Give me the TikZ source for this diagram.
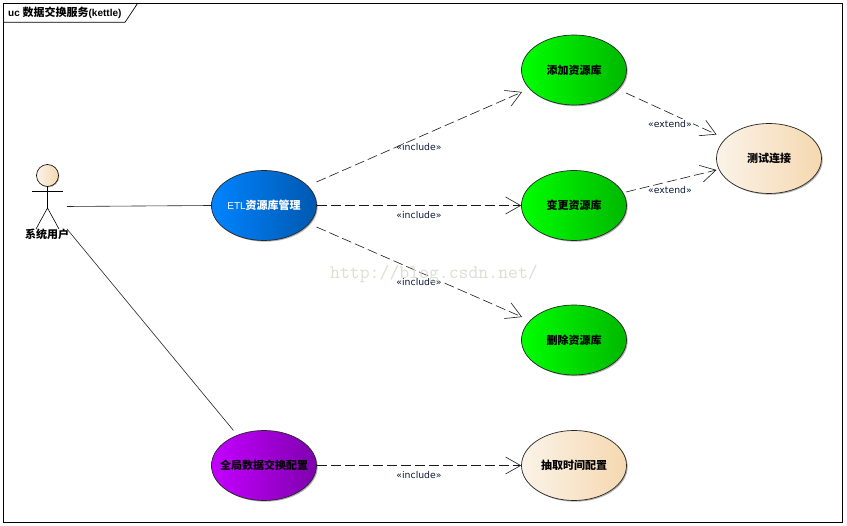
\documentclass[tikz,border=0pt]{standalone}
\usepackage{fontspec}
\setmainfont{Liberation Sans}
\newfontfamily\cjk{Noto Sans CJK SC}
\newfontfamily\stereofont{DejaVu Sans}
\usetikzlibrary{shapes.geometric,arrows.meta,shadows,fadings}
\definecolor{wm}{HTML}{DEDED6}
\definecolor{lbl}{HTML}{0A1A3A}
\tikzset{
  uc/.style={ellipse,draw=black!85,line width=0.7pt,minimum width=105pt,minimum height=70pt,inner sep=0pt,
    drop shadow={shadow xshift=1.2pt,shadow yshift=-1.2pt,fill=black,opacity=0.3},
    font=\fontsize{11}{12}\selectfont\cjk\bfseries,text=black,shading angle=90},
  ucblue/.style={uc,left color=blue1,right color=blue2,text=white},
  ucgreen/.style={uc,left color=green1,right color=green2},
  ucpurple/.style={uc,left color=purple1,right color=purple2},
  ucbeige/.style={uc,left color=beige1,right color=beige2},
  assoc/.style={draw=black!85,line width=0.6pt},
  dep/.style={draw=black!90,line width=0.6pt,dash pattern=on 10pt off 4pt,
     -{Straight Barb[length=15pt,width=17pt,line width=0.6pt]}},
  stereo/.style={fill=white,inner sep=1pt,text=lbl,font=\fontsize{9.3}{10}\selectfont\stereofont},
  limb/.style={draw=black,line width=0.6pt},
}
\definecolor{blue1}{HTML}{0084FF}\definecolor{blue2}{HTML}{0058B0}
\definecolor{green1}{HTML}{00FF00}\definecolor{green2}{HTML}{00B800}
\definecolor{purple1}{HTML}{C400FF}\definecolor{purple2}{HTML}{7F00AE}
\definecolor{beige1}{HTML}{FBF3E8}\definecolor{beige2}{HTML}{F5D8B0}
\begin{document}
\begin{tikzpicture}[x=1pt,y=-1pt]
\useasboundingbox (0,0) rectangle (847,526);
\fill[white] (0,0) rectangle (847,526);
% frame
\draw[black,line width=0.8pt] (3.5,3.5) rectangle (842,522);
\draw[black,line width=0.7pt] (3.5,22.3) -- (125,22.3) -- (137.5,3.5);
\node[anchor=west,inner sep=0pt,font=\fontsize{10}{11}\selectfont\bfseries] (title) at (8,13) {uc {\fontsize{11}{11}\selectfont\cjk 数据交换服务}(kettle)};
% actor
\node[circle,draw=black,line width=0.6pt,minimum size=22pt,inner sep=0pt,left color=beige1,right color=beige2,shading angle=90,
  drop shadow={shadow xshift=0.8pt,shadow yshift=-0.8pt,fill=black,opacity=0.3}] (head) at (47.5,175.5) {};
\coordinate (hip) at (47.5,208);
\coordinate (armL) at (32,191);
\coordinate (armR) at (62.5,191);
\coordinate (legL) at (36,229);
\coordinate (legR) at (59,229);
\draw[limb] (head.south) -- (hip);
\draw[limb] (armL) -- (armR);
\draw[limb] (legL) -- (hip) -- (legR);
\node[inner sep=0pt,font=\fontsize{11}{12}\selectfont\cjk\bfseries] (actor) at (47,234) {系统用户};
% use cases
\node[ucblue] (etl) at (264,205.5) {\makebox[0pt]{{\fontsize{10}{12}\selectfont\rmfamily\mdseries ETL}资源库管理}};
\node[ucgreen] (add) at (574,70) {添加资源库};
\node[ucgreen] (chg) at (574,205.5) {变更资源库};
\node[ucgreen] (del) at (574,340) {删除资源库};
\node[ucbeige] (test) at (769,158.5) {测试连接};
\node[ucpurple] (glob) at (264,465.5) {\makebox[0pt]{全局数据交换配置}};
\node[ucbeige] (ext) at (574,465.5) {抽取时间配置};
% connector ends
\coordinate (actA) at (67,206.5);
\coordinate (actB) at (67,229);
\coordinate (globIn) at (233.5,430.5);
\coordinate (etlA) at (316.5,182);
\coordinate (etlC) at (316.5,227);
\coordinate (addIn) at (522,92);
\coordinate (delIn) at (522,317);
\coordinate (addOut) at (626,93);
\coordinate (chgOut) at (626,192);
\coordinate (testA) at (716.5,134.5);
\coordinate (testB) at (716.5,170);
% connectors
\draw[assoc] (actA) -- (etl.west);
\draw[assoc] (actB) -- (globIn);
\draw[dep] (etlA) -- (addIn);
\draw[dep] (etl.east) -- (chg.west);
\draw[dep] (etlC) -- (delIn);
\draw[dep] (glob.east) -- (ext.west);
\draw[dep] (addOut) -- (testA);
\draw[dep] (chgOut) -- (testB);
% labels
\node[stereo,fill=none] (l1) at (419,147) {«include»};
\node[stereo,fill=none] (l2) at (419,215) {«include»};
\node[stereo] (l3) at (419,282) {«include»};
\node[stereo,fill=none] (l4) at (419,475) {«include»};
\node[stereo] (l5) at (670,124) {«extend»};
\node[stereo,fill=none] (l6) at (670,190.5) {«extend»};
% watermark
\node[inner sep=0pt,text=wm,font=\fontsize{19.2}{20}\selectfont\ttfamily] (wmk) at (434,274) {http://blog.csdn.net/};
\end{tikzpicture}
\end{document}
